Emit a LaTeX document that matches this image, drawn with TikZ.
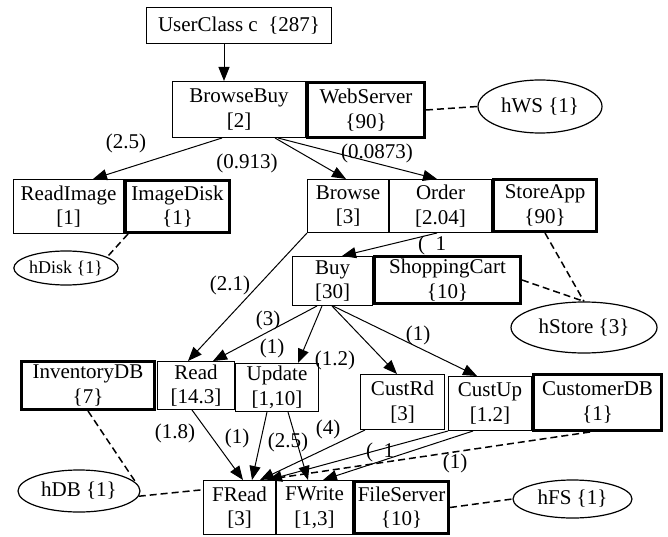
\documentclass[tikz,border=0pt]{standalone}
\usepackage{fontspec}
\setmainfont{Liberation Serif}
\usetikzlibrary{arrows.meta,shapes.geometric}
\begin{document}
\begin{tikzpicture}[x=1pt,y=-1pt,
  every node/.style={font=\fontsize{21}{24.5}\selectfont},
  box/.style={draw, line width=1pt, inner sep=0pt, align=center},
  hw/.style={draw, line width=3pt, inner sep=0pt, align=center},
  host/.style={draw, ellipse, line width=1.2pt, inner sep=0pt},
  arr/.style={line width=1pt, -{Triangle[length=14pt,width=11pt]}},
  dsh/.style={line width=1.5pt, dash pattern=on 7pt off 4pt},
  lbl/.style={inner sep=0pt}]
\useasboundingbox (0,0) rectangle (668,537);

% boxes
\node[box, minimum width=185, minimum height=36] (uc) at (239,25.5) {UserClass c~~\{287\}};
\node[box, minimum width=133, minimum height=56] (bb) at (239,109.5) {BrowseBuy\\{[2]}};
\node[hw, minimum width=117, minimum height=55] (ws) at (366,110) {WebServer\\\{90\}};
\node[box, minimum width=110, minimum height=54] (ri) at (68.5,206.5) {ReadImage\\{[1]}};
\node[hw, minimum width=104, minimum height=52] (id) at (177.5,206.5) {ImageDisk\\\{1\}};
\node[box, minimum width=81, minimum height=53] (br) at (348,206) {Browse\\{[3]}};
\node[box, minimum width=102, minimum height=53] (or) at (440.5,206) {Order\\{[2.04]}};
\node[hw, minimum width=103, minimum height=52] (sa) at (545,205.5) {StoreApp\\\{90\}};
\node[box, minimum width=80, minimum height=49] (buy) at (332.5,281) {Buy\\{[30]}};
\node[hw, minimum width=146, minimum height=47] (sc) at (447.5,280) {ShoppingCart\\\{10\}};
\node[hw, minimum width=133, minimum height=48] (idb) at (88,385.5) {InventoryDB\\\{7\}};
\node[box, minimum width=77, minimum height=48] (rd) at (196,385.5) {Read\\{[14.3]}};
\node[box, minimum width=83, minimum height=48] (up) at (277,387.5) {Update\\{[1,10]}};
\node[box, minimum width=84, minimum height=55] (cr) at (402.5,402) {CustRd\\{[3]}};
\node[box, minimum width=83, minimum height=54] (cu) at (490,403.5) {CustUp\\{[1.2]}};
\node[hw, minimum width=128, minimum height=56] (cdb) at (597.5,402.5) {CustomerDB\\\{1\}};
\node[box, minimum width=72, minimum height=54] (fr) at (239.5,507.5) {FRead\\{[3]}};
\node[box, minimum width=76, minimum height=54] (fw) at (314.5,507.5) {FWrite\\{[1,3]}};
\node[hw, minimum width=94, minimum height=52] (fs) at (401.5,507.5) {FileServer\\\{10\}};

% hosts
\node[host, minimum width=124, minimum height=53] (hws) at (540,106.5) {hWS \{1\}};
\node[host, minimum width=98, minimum height=34, font=\fontsize{18}{20}\selectfont] (hdisk) at (66,268) {hDisk \{1\}};
\node[host, minimum width=146, minimum height=51] (hstore) at (584,327.5) {hStore \{3\}};
\node[host, minimum width=122, minimum height=42] (hdb) at (79,491) {hDB \{1\}};
\node[host, minimum width=119, minimum height=38] (hfs) at (572.5,499) {hFS \{1\}};

% labels
\node[lbl] (l1) at (126,143) {(2.5)};
\node[lbl] (l2) at (247,163) {(0.913)};
\node[lbl] (l3) at (377,153) {(0.0873)};
\node[lbl] (l4) at (432,245) {(\enspace1};
\node[lbl] (l5) at (230,285) {(2.1)};
\node[lbl] (l6) at (268,320) {(3)};
\node[lbl] (l7) at (272,348) {(1)};
\node[lbl] (l8) at (335,360) {(1.2)};
\node[lbl] (l9) at (418,335) {(1)};
\node[lbl] (l10) at (175,433) {(1.8)};
\node[lbl] (l11) at (237,438) {(1)};
\node[lbl] (l12) at (288,442) {(2.5)};
\node[lbl] (l13) at (328,429) {(4)};
\node[lbl] (l14) at (380,452) {(\enspace1};
\node[lbl] (l15) at (455,463) {(1)};

% arrows
\draw[arr] ([xshift=-15pt]uc.south) -- ([xshift=-15pt]bb.north);
\draw[arr] ([xshift=-17pt]bb.south) -- ([xshift=24.5pt]ri.north);
\draw[arr] ([xshift=36pt]bb.south) -- ([xshift=-2pt]br.north);
\draw[arr] ([xshift=39pt]bb.south) -- ([xshift=-3.5pt]or.north);
\draw[arr] ([xshift=-3.5pt]or.south) -- ([xshift=9.5pt]buy.north);
\draw[arr] (br.south west) -- ([xshift=-8pt]rd.north);
\draw[arr] ([xshift=-15.5pt]buy.south) -- ([xshift=17pt]rd.north);
\draw[arr] ([xshift=-10.5pt]buy.south) -- ([xshift=21pt]up.north);
\draw[arr] ([xshift=-0.5pt]buy.south) -- ([xshift=-5.5pt]cr.north);
\draw[arr] ([xshift=0.5pt]buy.south) -- ([xshift=-13pt]cu.north);
\draw[arr] ([xshift=-4pt]rd.south) -- ([xshift=3.5pt]fr.north);
\draw[arr] ([xshift=-10pt]up.south) -- ([xshift=12.5pt]fr.north);
\draw[arr] ([xshift=11pt]up.south) -- ([xshift=-6.5pt]fw.north);
\draw[arr] ([xshift=-37.5pt]cr.south) -- ([xshift=20.5pt]fr.north);
\draw[arr] (cu.south west) -- ([xshift=28.5pt]fr.north);
\draw[arr] ([xshift=-17pt]cu.south) -- ([xshift=8.5pt]fw.north);

% dashed host links
\draw[dsh] (ws.east) -- (hws.west);
\draw[dsh] ([xshift=-49.5pt]id.south) -- (hdisk.15);
\draw[dsh] (sa.south) -- (hstore.north);
\draw[dsh] (sc.east) -- (hstore.north);
\draw[dsh] (idb.south) -- (hdb.8);
\draw[dsh] (hdb.-5) -- (fr.154);
\draw[dsh] ([xshift=-7.5pt]cdb.south) -- ([xshift=24pt]fr.north);
\draw[dsh] (fs.east) -- (hfs.west);
\end{tikzpicture}
\end{document}
